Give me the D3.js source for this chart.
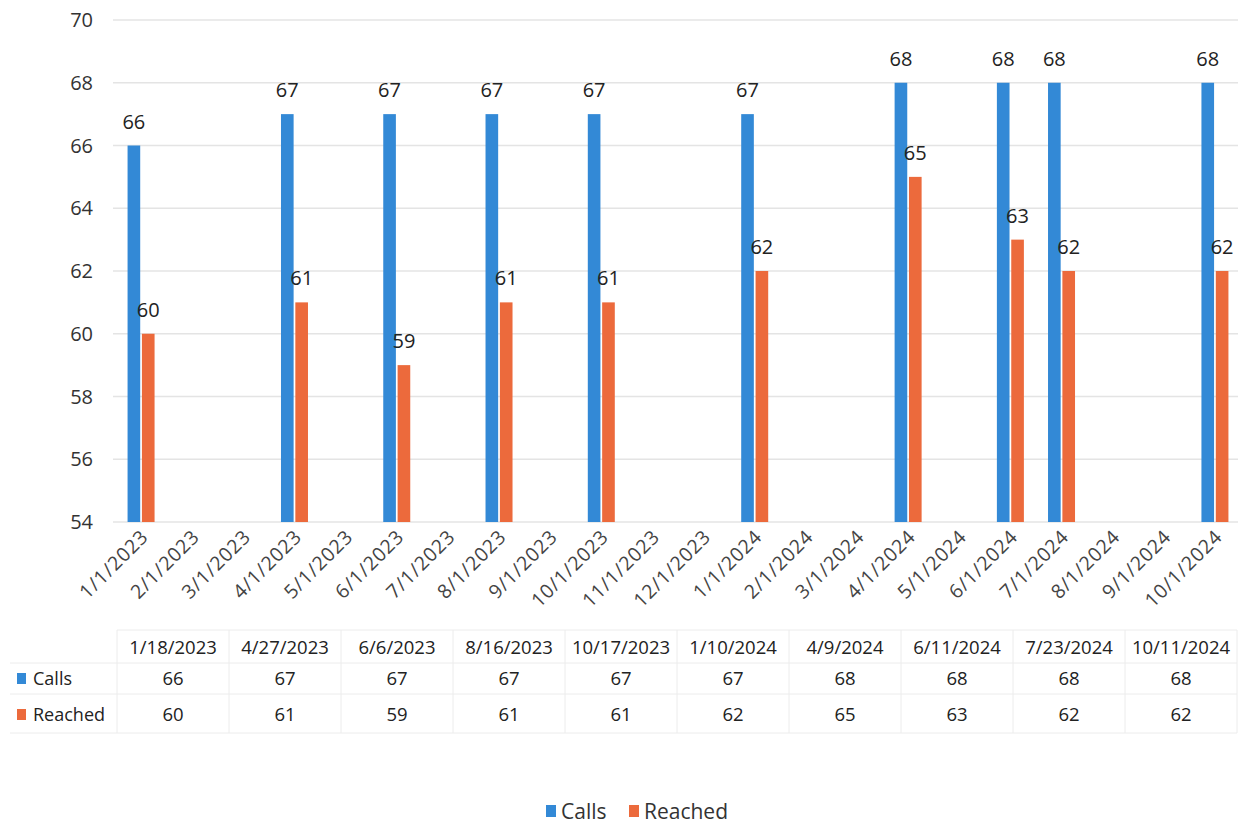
<!DOCTYPE html>
<html>
<head>
<meta charset="utf-8">
<script src="https://cdn.jsdelivr.net/npm/d3@7"></script>
<style>
  body { margin: 0; background: #fff; }
  svg { font-family: "Open Sans", "Noto Sans", sans-serif; }
</style>
</head>
<body>
<svg id="chart" width="1241" height="825"></svg>
<script>
// chart data
const dates = ["1/18/2023", "4/27/2023", "6/6/2023", "8/16/2023", "10/17/2023",
               "1/10/2024", "4/9/2024", "6/11/2024", "7/23/2024", "10/11/2024"];
const calls = [66, 67, 67, 67, 67, 67, 68, 68, 68, 68];
const reached = [60, 61, 59, 61, 61, 62, 65, 63, 62, 62];
const monthTicks = ["1/1/2023", "2/1/2023", "3/1/2023", "4/1/2023", "5/1/2023", "6/1/2023",
                    "7/1/2023", "8/1/2023", "9/1/2023", "10/1/2023", "11/1/2023", "12/1/2023",
                    "1/1/2024", "2/1/2024", "3/1/2024", "4/1/2024", "5/1/2024", "6/1/2024",
                    "7/1/2024", "8/1/2024", "9/1/2024", "10/1/2024"];
const yTicks = [54, 56, 58, 60, 62, 64, 66, 68, 70];
const seriesNames = ["Calls", "Reached"];
const colors = { Calls: "#3389d6", Reached: "#ec6a3c" };

const svg = d3.select("#chart");

// date -> first of its month (excel date axis with month base unit)
const monthOf = s => { const p = s.split("/"); return p[0] + "/1/" + p[2]; };

const x = d3.scaleBand().domain(monthTicks).range([115, 1240]);
const x1 = d3.scaleBand().domain(seriesNames).range([x.bandwidth() / 2 - 13, x.bandwidth() / 2 + 14]).paddingInner(0.12);
const y = d3.scaleLinear().domain([54, 70]).range([522, 20]);

// gridlines
svg.append('g').selectAll('line')
    .data(yTicks).enter()
    .append('line')
    .attr('x1', 113).attr('x2', 1238)
    .attr('y1', d => y(d)).attr('y2', d => y(d))
    .attr('stroke', '#e4e4e4').attr('stroke-width', 1.5);

// y axis labels
svg.append('g').selectAll('text')
    .data(yTicks).enter()
    .append('text')
    .attr('x', 93).attr('y', d => y(d)).attr('dy', '0.35em')
    .attr('text-anchor', 'end')
    .attr('font-size', 20).attr('fill', '#333')
    .text(d => d);

// bars
const rows = dates.map((d, i) => ({ date: d, month: monthOf(d), Calls: calls[i], Reached: reached[i] }));

const groups = svg.append('g').selectAll('g')
    .data(rows).enter()
    .append('g')
    .attr('transform', d => `translate(${x(d.month)},0)`);

groups.selectAll('rect')
    .data(d => seriesNames.map(k => ({ key: k, value: d[k] })))
    .enter().append('rect')
    .attr('x', d => x1(d.key))
    .attr('width', x1.bandwidth())
    .attr('y', d => y(d.value))
    .attr('height', d => y(54) - y(d.value))
    .attr('fill', d => colors[d.key]);

groups.selectAll('text')
    .data(d => seriesNames.map(k => ({ key: k, value: d[k] })))
    .enter().append('text')
    .attr('x', d => x1(d.key) + x1.bandwidth() / 2)
    .attr('y', d => y(d.value) - 17)
    .attr('text-anchor', 'middle')
    .attr('font-size', 20).attr('fill', '#222')
    .text(d => d.value);

// rotated month labels
svg.append('g').selectAll('text')
    .data(monthTicks).enter()
    .append('text')
    .attr('transform', d => `translate(${x(d) + x.bandwidth() / 2 + 9},${538}) rotate(-45)`)
    .attr('text-anchor', 'end')
    .attr('font-size', 19.5).attr('letter-spacing', 0.8).attr('fill', '#444')
    .text(d => d);

// data table
const tableTop = 630, rowH = [33, 31, 39];
const colX = d3.scaleBand().domain(dates).range([117, 1237]);
const tbl = svg.append('g');
const rowY = [tableTop, tableTop + rowH[0], tableTop + rowH[0] + rowH[1], tableTop + rowH[0] + rowH[1] + rowH[2]];

tbl.selectAll('line.h')
    .data(rowY).enter()
    .append('line')
    .attr('x1', (d, i) => i === 0 ? 117 : 10).attr('x2', 1237)
    .attr('y1', d => d).attr('y2', d => d)
    .attr('stroke', '#ececec');

tbl.selectAll('line.v')
    .data(dates.concat(['end'])).enter()
    .append('line')
    .attr('x1', (d, i) => 117 + i * colX.bandwidth())
    .attr('x2', (d, i) => 117 + i * colX.bandwidth())
    .attr('y1', tableTop).attr('y2', rowY[3])
    .attr('stroke', '#ececec');

tbl.selectAll('text.head')
    .data(dates).enter()
    .append('text')
    .attr('x', d => colX(d) + colX.bandwidth() / 2)
    .attr('y', tableTop + 24)
    .attr('text-anchor', 'middle')
    .attr('font-size', 18.5).attr('fill', '#222')
    .text(d => d);

[calls, reached].forEach((vals, r) => {
    const yy = rowY[r + 1] + (r === 0 ? 22 : 27);
    tbl.append('rect')
        .attr('x', 17).attr('y', yy - 12).attr('width', 9).attr('height', 11)
        .attr('fill', colors[seriesNames[r]]);
    tbl.append('text')
        .attr('x', 33).attr('y', yy)
        .attr('font-size', 18).attr('fill', '#222')
        .text(seriesNames[r]);
    tbl.selectAll(null)
        .data(vals).enter()
        .append('text')
        .attr('x', (d, i) => colX(dates[i]) + colX.bandwidth() / 2)
        .attr('y', yy)
        .attr('text-anchor', 'middle')
        .attr('font-size', 18.5).attr('fill', '#222')
        .text(d => d);
});

// legend
const legend = svg.append('g')
    .selectAll('g')
    .data(seriesNames).enter()
    .append('g')
    .attr('transform', (d, i) => `translate(${i === 0 ? 546 : 629},822)`);

legend.append('rect')
    .attr('x', 0).attr('y', -17).attr('width', 10).attr('height', 12)
    .attr('fill', d => colors[d]);

legend.append('text')
    .attr('x', 15).attr('y', -3)
    .attr('font-size', 21).attr('fill', '#333')
    .text(d => d);
</script>
</body>
</html>
